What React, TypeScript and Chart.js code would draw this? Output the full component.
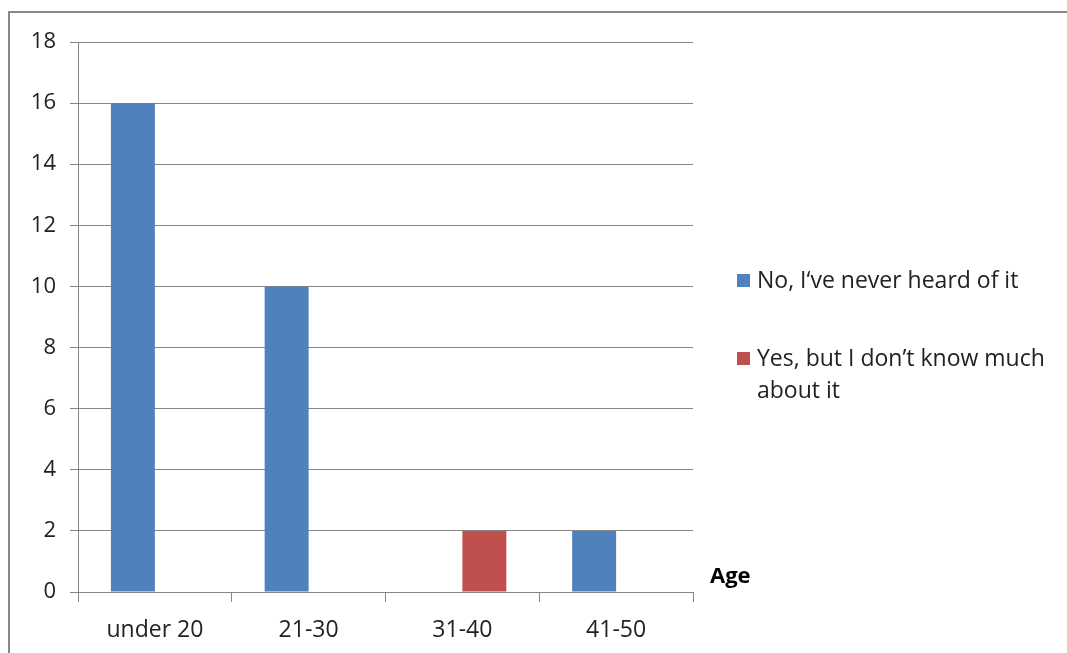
import React, { useEffect, useRef } from "react";
import { Chart, registerables } from "chart.js";

Chart.register(...registerables);

const categories = ["under 20", "21-30", "31-40", "41-50"];
const neverHeard = [16, 10, 0, 2];
const dontKnowMuch = [0, 0, 2, 0];
const seriesNames = ["No, I\u2018ve never heard of it", "Yes, but I don\u2019t know much about it"];
const colors = ["#4F81BD", "#C0504D"];

const FONT = "'Open Sans', Lato, sans-serif";

export default function App() {
  const ref = useRef<HTMLCanvasElement>(null);
  useEffect(() => {
    document.body.style.margin = "0";
    const chart = new Chart(ref.current!, {
      type: "bar",
      data: {
        labels: categories,
        datasets: [
          { label: seriesNames[0], data: neverHeard, backgroundColor: colors[0], borderWidth: 0 },
          { label: seriesNames[1], data: dontKnowMuch, backgroundColor: colors[1], borderWidth: 0 },
        ],
      },
      options: {
        responsive: false,
        animation: false,
        maintainAspectRatio: false,
        layout: { padding: { left: 0, right: 374, top: 42, bottom: 0 } },
        plugins: { legend: { display: false }, tooltip: { enabled: false } },
        datasets: { bar: { categoryPercentage: 0.572, barPercentage: 1 } },
        scales: {
          x: {
            afterFit: (s: any) => { s.height = 61; },
            grid: { offset: true, drawOnChartArea: false, drawTicks: true, tickLength: 10, color: "#868686", lineWidth: 1 },
            border: { color: "#868686", width: 1 },
            ticks: { color: "#222", font: { family: FONT, size: 23 }, padding: 15 },
          },
          y: {
            min: 0,
            max: 18,
            afterFit: (s: any) => { s.width = 78; },
            grid: { color: "#868686", lineWidth: 1, tickLength: 8, drawTicks: true },
            border: { color: "#868686", width: 1 },
            ticks: { stepSize: 2, color: "#222", font: { family: FONT, size: 22 }, padding: 14 },
          },
        },
      },
    });
    return () => chart.destroy();
  }, []);

  const sq = (c: string) => (
    <span style={{ position: "absolute", left: 0, top: 11, width: 13, height: 13, background: c }} />
  );

  return (
    <div style={{ position: "absolute", left: 0, top: 0, width: 1067, height: 653, overflow: "hidden", background: "#fff", fontFamily: FONT }}>
      <div style={{ position: "absolute", left: 8, top: 11, width: 1200, height: 800, borderLeft: "2px solid #888", borderTop: "2px solid #888" }} />
      <canvas ref={ref} width={1067} height={653} style={{ position: "absolute", left: 0, top: 0 }} />
      <div style={{ position: "absolute", left: 710, top: 563, fontWeight: "bold", fontSize: 22, lineHeight: 1, color: "#000" }}>Age</div>
      <div style={{ position: "absolute", left: 737, top: 263, width: 330, fontSize: 23, color: "#222", lineHeight: "32px" }}>
        {sq(colors[0])}
        <div style={{ marginLeft: 20, whiteSpace: "nowrap" }}>{seriesNames[0]}</div>
      </div>
      <div style={{ position: "absolute", left: 737, top: 341, width: 330, fontSize: 23, color: "#222", lineHeight: "32px" }}>
        {sq(colors[1])}
        <div style={{ marginLeft: 20, whiteSpace: "nowrap" }}>Yes, but I don’t know much<br />about it</div>
      </div>
    </div>
  );
}
